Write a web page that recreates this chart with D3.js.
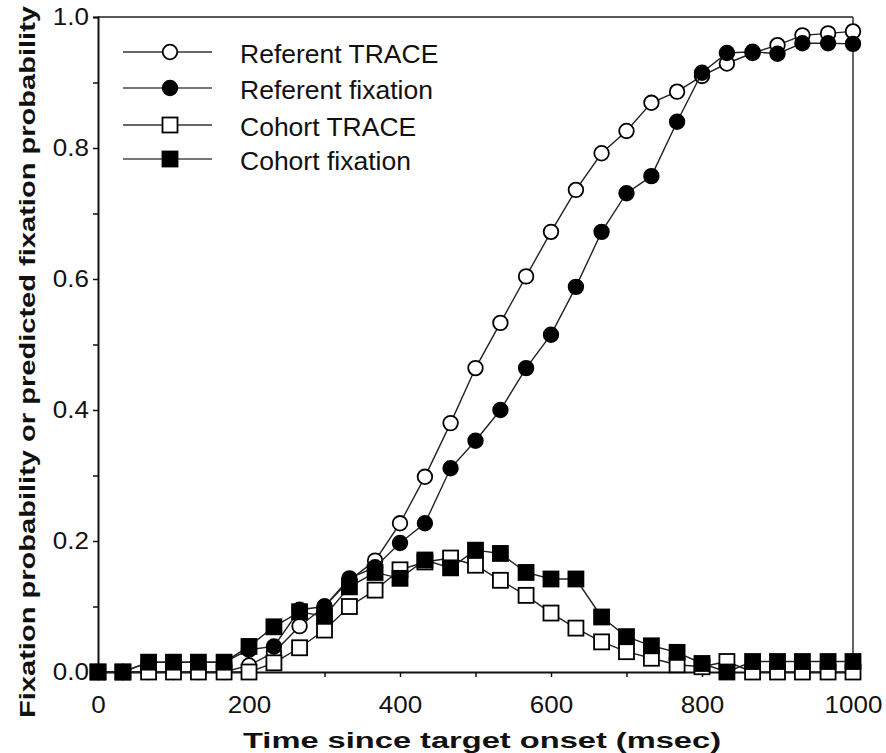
<!DOCTYPE html>
<meta charset="utf-8">
<script src="https://d3js.org/d3.v7.min.js"></script>
<style>
  body { margin: 0; background: #fff; }
  text { font-family: "Liberation Sans", Arial, Helvetica, sans-serif; fill: #111; }
</style>
<div id="chart"></div>
<script>

// time since target onset (msec)
var times = [0, 33, 67, 100, 133, 167, 200, 233, 267, 300, 333, 367, 400, 433, 467, 500,
             533, 567, 600, 633, 667, 700, 733, 767, 800, 833, 867, 900, 933, 967, 1000];

var referentTrace = [0, 0, 0, 0, 0, 0, 0.01, 0.03, 0.07, 0.10, 0.14, 0.17, 0.227, 0.298, 0.38, 0.464,
                     0.533, 0.604, 0.672, 0.736, 0.792, 0.826, 0.869, 0.886, 0.91, 0.929, 0.945, 0.957, 0.972, 0.975, 0.978];

var referentFixation = [0, 0, 0.015, 0.015, 0.015, 0.015, 0.034, 0.039, 0.095, 0.10, 0.143, 0.16, 0.197, 0.227, 0.311, 0.353,
                        0.40, 0.464, 0.515, 0.588, 0.672, 0.731, 0.757, 0.84, 0.915, 0.945, 0.947, 0.944, 0.96, 0.96, 0.959];

var cohortTrace = [0, 0, 0, 0, 0, 0, 0, 0.014, 0.037, 0.064, 0.10, 0.125, 0.156, 0.168, 0.174, 0.163,
                   0.14, 0.117, 0.09, 0.067, 0.046, 0.031, 0.021, 0.011, 0.008, 0.016, 0, 0, 0, 0, 0];

var cohortFixation = [0, 0, 0.015, 0.015, 0.015, 0.015, 0.039, 0.069, 0.092, 0.085, 0.13, 0.152, 0.143, 0.171, 0.159, 0.186,
                      0.181, 0.152, 0.142, 0.142, 0.084, 0.054, 0.04, 0.03, 0.013, 0, 0.016, 0.016, 0.016, 0.016, 0.016];

var seriesNames = ["Referent TRACE", "Referent fixation", "Cohort TRACE", "Cohort fixation"];
var xTicks = [0, 200, 400, 600, 800, 1000];
var yTicks = [0, 0.2, 0.4, 0.6, 0.8, 1.0];

var series = [
  {name: seriesNames[0], values: referentTrace, shape: "circle", filled: false},
  {name: seriesNames[1], values: referentFixation, shape: "circle", filled: true},
  {name: seriesNames[2], values: cohortTrace, shape: "square", filled: false},
  {name: seriesNames[3], values: cohortFixation, shape: "square", filled: true}
];

var width = 886, height = 753;
var plot = {left: 98, right: 853, top: 17, bottom: 672};

var svg = d3.select("#chart")
  .append("svg")
    .attr("width", width)
    .attr("height", height);

var x = d3.scaleLinear().domain([0, 1000]).range([plot.left, plot.right]);
var y = d3.scaleLinear().domain([0, 1]).range([plot.bottom, plot.top]);

// the scanned figure is a little wider than tall, so widen the text to match
function stretch(sel, factor) {
  sel.each(function() {
    var w = this.getComputedTextLength();
    if (w > 0) d3.select(this).attr("textLength", w * factor).attr("lengthAdjust", "spacingAndGlyphs");
  });
}

// frame (top and right)
svg.append("line")
  .attr("x1", plot.left).attr("x2", plot.right)
  .attr("y1", plot.top).attr("y2", plot.top)
  .attr("stroke", "#222").attr("stroke-width", 1.6);
svg.append("line")
  .attr("x1", plot.right).attr("x2", plot.right)
  .attr("y1", plot.top).attr("y2", plot.bottom)
  .attr("stroke", "#222").attr("stroke-width", 1.4);

// X axis
var xAxis = svg.append("g")
  .attr("transform", "translate(0," + plot.bottom + ")")
  .call(d3.axisBottom(x).tickValues(d3.range(0, 1001, 100)).tickSize(5)
    .tickFormat(function(d) { return xTicks.indexOf(d) >= 0 ? d : ""; }));
xAxis.select(".domain").attr("stroke", "#111").attr("stroke-width", 2);
xAxis.selectAll(".tick line").attr("stroke", "#111").attr("stroke-width", 1.5);
xAxis.selectAll(".tick text")
  .attr("y", 25)
  .attr("font-size", 23)
  .attr("font-family", "Liberation Sans, Arial, sans-serif")
  .attr("fill", "#111")
  .call(stretch, 1.13);

// Y axis
var yAxis = svg.append("g")
  .attr("transform", "translate(" + plot.left + ",0)")
  .call(d3.axisLeft(y).tickValues(d3.range(0, 11).map(function(i) { return i / 10; })).tickSize(5)
    .tickFormat(function(d) { return yTicks.some(function(t) { return Math.abs(t - d) < 1e-9; }) ? d3.format(".1f")(d) : ""; }));
yAxis.select(".domain").attr("stroke", "#111").attr("stroke-width", 2);
yAxis.selectAll(".tick text")
  .attr("x", -9)
  .attr("font-size", 23)
  .attr("font-family", "Liberation Sans, Arial, sans-serif")
  .attr("fill", "#111")
  .call(stretch, 1.13);
yAxis.selectAll(".tick line").attr("stroke", "#111").attr("stroke-width", 1.5);

// axis titles
svg.append("text")
  .attr("x", 482)
  .attr("y", 748)
  .attr("text-anchor", "middle")
  .attr("font-size", 22)
  .attr("font-weight", "bold")
  .attr("textLength", 478)
  .attr("lengthAdjust", "spacingAndGlyphs")
  .text("Time since target onset (msec)");

svg.append("text")
  .attr("transform", "translate(35,362) rotate(-90)")
  .attr("text-anchor", "middle")
  .attr("font-size", 22)
  .attr("font-weight", "bold")
  .attr("textLength", 712)
  .attr("lengthAdjust", "spacingAndGlyphs")
  .text("Fixation probability or predicted fixation probability");

var line = d3.line()
  .x(function(d, i) { return x(times[i]); })
  .y(function(d) { return y(d); });

function drawMarker(g, shape, filled, cx, cy) {
  if (shape === "circle") {
    g.append("circle")
      .attr("cx", cx).attr("cy", cy).attr("r", 7.3)
      .attr("fill", filled ? "#000" : "#fff")
      .attr("stroke", "#000").attr("stroke-width", 1.8);
  } else {
    g.append("rect")
      .attr("x", cx - 7.5).attr("y", cy - 7.5)
      .attr("width", 15).attr("height", 15)
      .attr("fill", filled ? "#000" : "#fff")
      .attr("stroke", "#000").attr("stroke-width", 1.8);
  }
}

series.forEach(function(s) {
  var g = svg.append("g");
  g.append("path")
    .datum(s.values)
    .attr("fill", "none")
    .attr("stroke", "#222")
    .attr("stroke-width", 1.4)
    .attr("d", line);
  s.values.forEach(function(v, i) {
    drawMarker(g, s.shape, s.filled, x(times[i]), y(v));
  });
});

// legend
var legendY = [52, 88, 125, 159];
series.forEach(function(s, i) {
  var g = svg.append("g");
  g.append("line")
    .attr("x1", 123).attr("x2", 212)
    .attr("y1", legendY[i]).attr("y2", legendY[i])
    .attr("stroke", s.filled ? "#777" : "#333")
    .attr("stroke-width", s.filled ? 2 : 1.4);
  drawMarker(g, s.shape, s.filled, 170, legendY[i]);
  g.append("text")
    .attr("x", 240)
    .attr("y", legendY[i] + 2)
    .attr("dy", "0.36em")
    .attr("font-size", 25)
    .text(s.name)
    .call(stretch, 1.06);
});

</script>
